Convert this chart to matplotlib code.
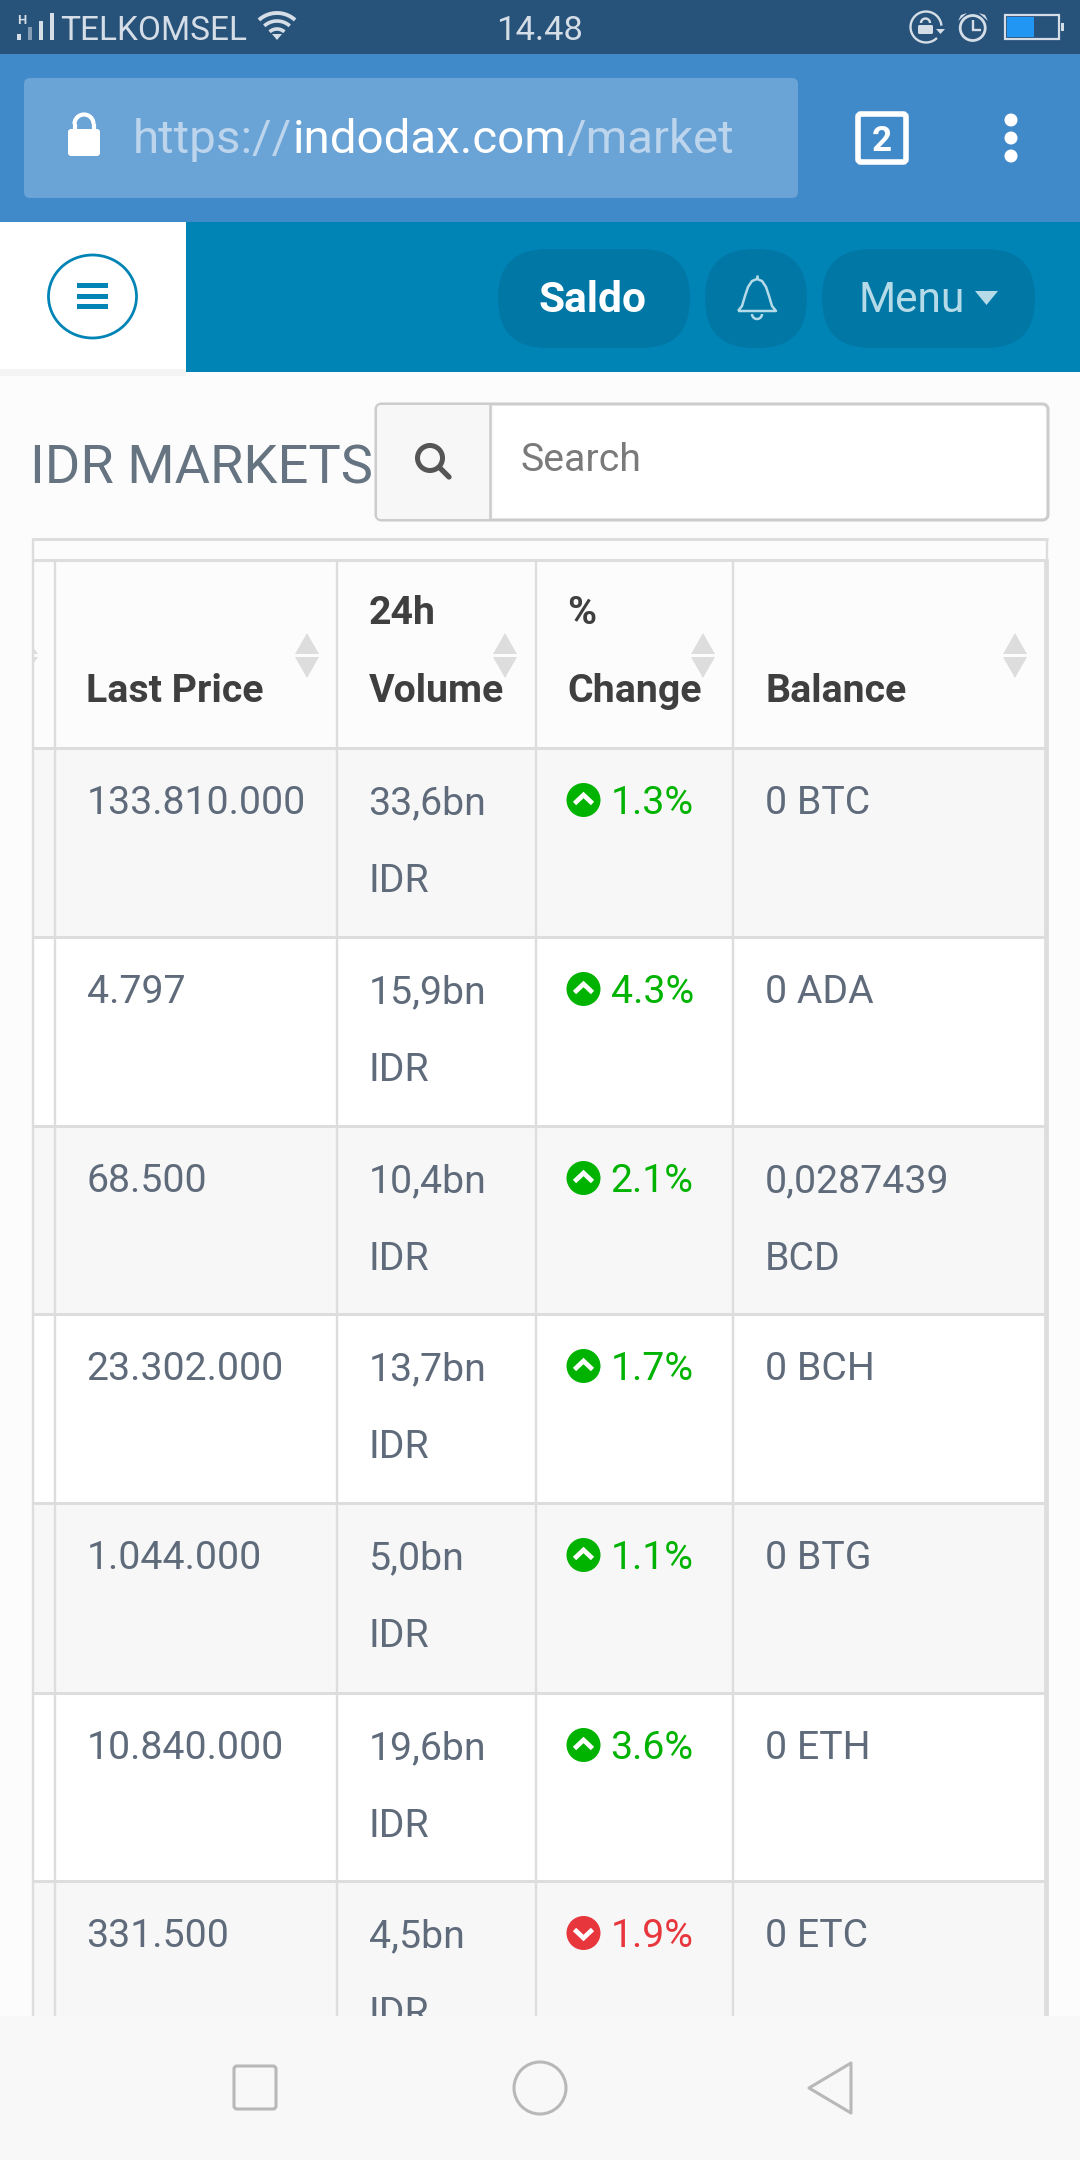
import numpy as np
import matplotlib
matplotlib.use("Agg")
import matplotlib.pyplot as plt
from matplotlib.patches import Rectangle, FancyBboxPatch, Circle, Ellipse, Polygon

# ---- data ----
last_prices = ["133.810.000", "4.797", "68.500", "23.302.000", "1.044.000", "10.840.000", "331.500"]
volumes = ["33,6bn", "15,9bn", "10,4bn", "13,7bn", "5,0bn", "19,6bn", "4,5bn"]
volume_unit = "IDR"
pct_changes = [1.3, 4.3, 2.1, 1.7, 1.1, 3.6, -1.9]
balances = [["0 BTC"], ["0 ADA"], ["0,0287439", "BCD"], ["0 BCH"], ["0 BTG"], ["0 ETH"], ["0 ETC"]]
headers = [["Last Price"], ["24h", "Volume"], ["%", "Change"], ["Balance"]]
url_parts = ["https://", "indodax.com", "/market"]

# ---- palette ----
PAGE = "#fcfcfc"; STATUS = "#27527a"; URLBAR = "#418ac9"; URLFIELD = "#6aa3d6"
TEAL = "#0084b6"; TEAL_D = "#0077a5"; PALE = "#b5dbe8"; URLDIM = "#bcd5ec"
LINE = "#dddddd"; ODD = "#f7f7f7"; TXT = "#5f6b7b"; HEAD = "#3f3f3f"
GREEN = "#00b300"; RED = "#e8363d"; NAVBG = "#f8f8f8"; NAVIC = "#b8b8b8"; STXT = "#d5dde6"

plt.rcParams["font.family"] = ["Roboto", "DejaVu Sans"]
plt.rcParams["lines.solid_capstyle"] = "butt"
fig = plt.figure(figsize=(10.8, 21.6), dpi=100, facecolor=PAGE)
ax = fig.add_axes([0, 0, 1, 1])
ax.set_xlim(0, 1080); ax.set_ylim(2160, 0); ax.axis("off")

PX = 0.72
def T(x, y, s, size, color, weight="normal", ha="left", z=5):
    return ax.text(x, y, s, fontsize=size * PX, color=color, fontweight=weight, ha=ha, va="baseline", zorder=z)
def R(x0, y0, x1, y1, color, z=1):
    ax.add_patch(Rectangle((x0, y0), x1 - x0, y1 - y0, fc=color, ec="none", zorder=z))
def RR(x0, y0, x1, y1, r, fc, ec="none", lw=0, z=2):
    ax.add_patch(FancyBboxPatch((x0 + r, y0 + r), x1 - x0 - 2 * r, y1 - y0 - 2 * r,
                                boxstyle=f"round,pad={r},rounding_size={r}", fc=fc, ec=ec, lw=lw, zorder=z))
def ARC(cx, cy, r, a0, a1, color, lw, z=6):
    t = np.radians(np.linspace(a0, a1, 40))
    ax.plot(cx + r * np.cos(t), cy - r * np.sin(t), color=color, lw=lw, zorder=z)

# ---- table ----
tbl_left, tbl_right = 32, 1048
col_lines = [33, 55, 337, 536, 733, 1046]
row_tops = [748, 937, 1126, 1314, 1503, 1693, 1881]
row_bottoms = row_tops[1:] + [2070]
col_text = [86.5, 368.5, 567, 765]
R(tbl_left, 538, tbl_right, 2016, PAGE, 1)
for i, (a, b) in enumerate(zip(row_tops, row_bottoms)):
    R(tbl_left, a, tbl_right, b, ODD if i % 2 == 0 else "#ffffff", 1)
for x in col_lines:
    ax.plot([x, x], [559, 2016], color=LINE, lw=1.7 if x != 1046 else 3.4, zorder=3)
ax.plot([33, 33], [538, 559], color=LINE, lw=1.7, zorder=3)
ax.plot([1047, 1047], [538, 559], color=LINE, lw=1.7, zorder=3)
ax.plot([tbl_left, tbl_right], [538.5, 538.5], color=LINE, lw=2.2, zorder=3)
ax.plot([tbl_left, tbl_right], [560, 560], color=LINE, lw=2.2, zorder=3)
for y in row_tops:
    ax.plot([tbl_left, 1047], [y, y], color=LINE, lw=2.2, zorder=3)

FS = 39.3
for lines, x in zip(headers, col_text):
    ys = [624, 702] if len(lines) == 2 else [702]
    for s, y in zip(lines, ys):
        T(x, y, s, FS, HEAD, "bold")
for cx in [307, 505, 703, 1015]:
    ax.add_patch(Polygon([[cx - 12, 654], [cx + 12, 654], [cx, 633]], fc=LINE, ec="none", zorder=4))
    ax.add_patch(Polygon([[cx - 12, 657], [cx + 12, 657], [cx, 678]], fc=LINE, ec="none", zorder=4))
ax.add_patch(Polygon([[33, 647], [38, 654], [33, 654]], fc=LINE, ec="none", zorder=4))
ax.add_patch(Polygon([[33, 657], [38, 657], [33, 664]], fc=LINE, ec="none", zorder=4))

for i, top in enumerate(row_tops):
    y1 = top + 66; y2 = y1 + 78
    T(col_text[0], y1, last_prices[i], FS, TXT)
    T(col_text[1], y1, volumes[i], FS, TXT)
    T(col_text[1], y2, volume_unit, FS, TXT)
    p = pct_changes[i]
    c = GREEN if p >= 0 else RED
    T(610.5, y1, f"{abs(p):.1f}%", FS, c)
    cy = y1 - 14
    ax.add_patch(Circle((583.5, cy), 17, fc=c, ec="none", zorder=5))
    d = -1 if p >= 0 else 1
    ax.plot([574.5, 583.5, 592.5], [cy - d * 3.5, cy + d * 5, cy - d * 3.5], color="white", lw=3.4, zorder=6,
            solid_joinstyle="miter")
    for j, s in enumerate(balances[i]):
        T(col_text[3], y1 + 78 * j, s, FS, TXT)

# ---- status bar ----
R(0, 0, 1080, 54, STATUS, 10)
T(60, 40, "TELKOMSEL", 33.4, STXT, z=11)
T(496, 40, "14.48", 34.5, STXT, z=11)
T(17, 24, "H", 13, STXT, "bold", z=11)
for x0, h, a in [(17, 6, 1), (28, 13, 0.55), (39, 19, 1), (50, 27, 1)]:
    ax.add_patch(Rectangle((x0, 40 - h), 4, h, fc=STXT, alpha=a, ec="none", zorder=11))
for r, lw in [(11, 2.6), (19, 2.6), (27, 2.8)]:
    ARC(277, 40, r, 48, 132, STXT, lw, z=11)
ax.add_patch(Polygon([[272, 34], [282, 34], [277, 40]], fc=STXT, ec="none", zorder=11))
ARC(926, 27, 15.5, 5, 315, STXT, 1.7, z=11)
RR(918, 25, 933, 34, 1.5, STXT, z=11)
ARC(925.5, 23, 4.5, 0, 180, STXT, 1.7, z=11)
ax.add_patch(Polygon([[936, 29], [945, 29], [940.5, 34]], fc=STXT, ec="none", zorder=11))
ax.add_patch(Circle((972.7, 28), 12.5, fc="none", ec=STXT, lw=2, zorder=11))
ax.plot([973, 973, 981], [20, 30, 30], color=STXT, lw=1.7, zorder=11, solid_joinstyle="miter")
ax.add_patch(Polygon([[958, 21], [961, 15], [967, 13]], fc=STXT, ec="none", zorder=11))
ax.add_patch(Polygon([[979, 13], [985, 15], [988, 21]], fc=STXT, ec="none", zorder=11))
ax.add_patch(Rectangle((1005, 15), 54, 24, fc="none", ec=STXT, lw=1.6, zorder=11))
R(1007, 17, 1034, 37, "#2196f3", 12)
R(1061, 23, 1064, 31, STXT, 11)

# ---- browser bar ----
R(0, 54, 1080, 222, URLBAR, 10)
RR(24, 78, 798, 198, 6, URLFIELD, z=11)
RR(68, 129, 100, 156, 3, "white", z=12)
ARC(84, 124, 9.5, 0, 180, "white", 3, z=12)
ax.plot([74.5, 74.5], [124, 130], color="white", lw=3, zorder=12)
ax.plot([93.5, 93.5], [124, 130], color="white", lw=3, zorder=12)
r = fig.canvas.get_renderer()
x = 133
for s, c in zip(url_parts, [URLDIM, "white", URLDIM]):
    t = T(x, 153, s, 47.5, c, z=12)
    x += t.get_window_extent(r).width
RR(858, 114, 906, 162, 3, "none", ec="white", lw=4, z=12)
T(882, 151, "2", 35, "white", "bold", ha="center", z=12)
for y in [120, 138, 156]:
    ax.add_patch(Circle((1011, y), 6.5, fc="white", ec="none", zorder=12))

# ---- site nav ----
R(186, 222, 1080, 372, TEAL, 2)
R(0, 222, 186, 369, "#ffffff", 2)
R(0, 369, 186, 376, "#f4f4f4", 1.5)
ax.add_patch(Ellipse((92.5, 296.5), 88, 83, fc="white", ec=TEAL, lw=2.0, zorder=3))
for y0, y1 in [(283, 288), (294, 299), (304, 309)]:
    R(77, y0, 108, y1, TEAL, 4)
RR(498, 249, 690, 348, 49, TEAL_D)
RR(705, 249, 807, 348, 49, TEAL_D)
RR(822, 249, 1035, 348, 49, TEAL_D)
T(539, 312, "Saldo", 42.5, "white", "bold")
T(859, 312, "Menu", 42.5, PALE)
ax.add_patch(Polygon([[975, 291], [998, 291], [986.5, 305]], fc=PALE, ec="none", zorder=5))
bx = [738, 742, 745, 748, 752, 757, 762, 766, 769, 772, 776, 738]
by = [311, 306, 296, 287, 281, 279, 281, 287, 296, 306, 311, 311]
ax.plot(bx, by, color=PALE, lw=1.8, zorder=5)
ax.plot([757, 757], [275, 279], color=PALE, lw=2, zorder=5)
ARC(757, 314, 5, 180, 360, PALE, 1.8, z=5)

# ---- heading + search ----
T(30, 483, "IDR MARKETS", 54.3, "#667482")
RR(376, 404, 1048, 520, 6, "#ffffff", ec="#cccccc", lw=2.2, z=2)
ax.add_patch(FancyBboxPatch((381, 409), 108, 106, boxstyle="round,pad=4,rounding_size=4", fc="#f7f7f7", ec="none", zorder=2.5))
ax.plot([490, 490], [404, 520], color="#cccccc", lw=1.8, zorder=3)
ax.add_patch(Circle((430, 458), 12.5, fc="none", ec="#555555", lw=3.6, zorder=4))
ax.plot([440, 449], [468, 477], color="#555555", lw=3.8, zorder=4, solid_capstyle="round")
T(521, 471, "Search", 39.3, "#7a7a7a")

# ---- android nav bar ----
R(0, 2016, 1080, 2160, NAVBG, 20)
RR(234, 2066, 276, 2109, 3, "none", ec=NAVIC, lw=2.2, z=21)
ax.add_patch(Circle((540, 2088), 26, fc="none", ec=NAVIC, lw=2.2, zorder=21))
ax.add_patch(Polygon([[851, 2063], [851, 2113], [809, 2088]], closed=True, fc="none", ec=NAVIC, lw=2.2, joinstyle="round", zorder=21))

fig.savefig("out.png", dpi=100, facecolor=PAGE)
